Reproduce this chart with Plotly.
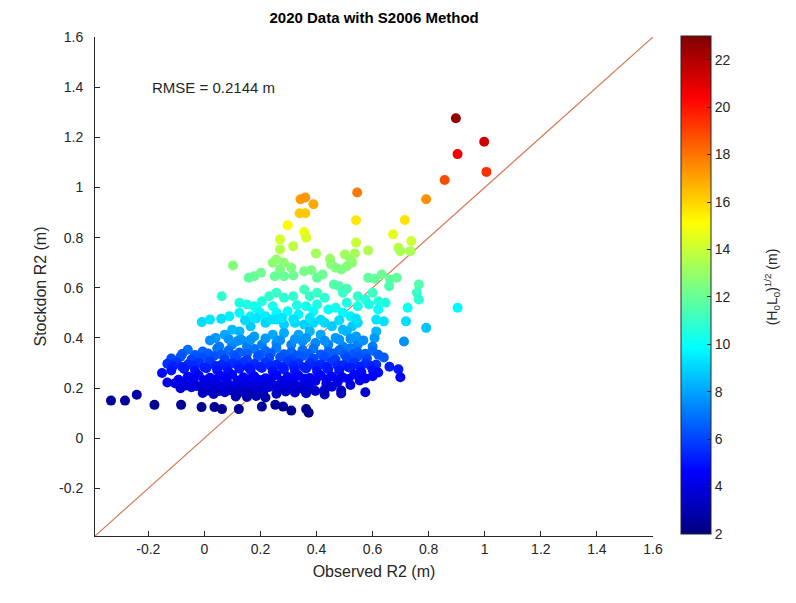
import plotly.graph_objects as go

# Observed vs. Stockdon (2006) predicted R2 runup, coloured by sqrt(H0*L0)
observed_r2 = [
    # upper tail
    0.897, 0.998, 0.903, 1.006, 0.857, 0.791, 0.545, 0.343, 0.360, 0.389, 0.340, 0.360, 0.541, 0.715, 0.297, 0.356, 0.363,
    0.673, 0.270, 0.270, 0.317, 0.541, 0.738, 0.692, 0.699, 0.735, 0.584, 0.398, 0.448, 0.452, 0.501, 0.521, 0.537,
    # green band
    0.244, 0.257, 0.284, 0.270, 0.102, 0.310, 0.356, 0.382, 0.468, 0.488, 0.508, 0.527, 0.158, 0.178, 0.202, 0.251,
    0.284, 0.317, 0.402, 0.422, 0.584, 0.607, 0.633, 0.663, 0.686,
    # teal band
    0.462, 0.481, 0.508, 0.494, 0.765, 0.758, 0.659, 0.062, 0.125, 0.152, 0.178, 0.205, 0.231, 0.257, 0.284, 0.317,
    0.356, 0.376, 0.402, 0.429, 0.547, 0.574, 0.600, 0.620, 0.646, 0.547, 0.587, 0.725, 0.765, 0.903,
    0.185, 0.244, 0.330, 0.402, 0.508, 0.620,
    # cyan band
    0.125, 0.165, 0.198, 0.218, 0.257, 0.297, 0.336, 0.363, 0.389, 0.442, 0.468, 0.089, -0.009, 0.020, 0.494, 0.521,
    0.613, 0.640, 0.719, 0.791, 0.099, 0.125, 0.165, 0.218, 0.257, 0.284, 0.323, 0.356, 0.389, 0.429, 0.455, 0.494,
    0.527, 0.547,
    0.060, 0.145, 0.185, 0.237, 0.277, 0.317, 0.376, 0.415, 0.481, 0.541,
    # light blue band
    0.040, 0.073, 0.132, 0.178, 0.244, 0.284, 0.336, 0.376, 0.415, 0.468, 0.508, 0.541, 0.613, 0.607, 0.712, 0.053,
    0.099, 0.152, 0.205, 0.257, 0.310, 0.350, 0.396, 0.442, 0.494, 0.547, 0.600,
    0.020, 0.086, 0.119, 0.165, 0.218, 0.270, 0.323, 0.363, 0.429, 0.481, 0.521, 0.567,
    # core
    -0.059, -0.006, 0.046, 0.086, 0.125, 0.178, 0.218, 0.257, 0.310, 0.350, 0.389, 0.442, 0.481, 0.521, 0.547, 0.600,
    -0.079, -0.033, 0.013, 0.060, 0.106, 0.152, 0.198, 0.237, 0.284, 0.330, 0.370, 0.415, 0.462, 0.501, 0.534, 0.574,
    0.620,
    -0.118, -0.085, -0.046, -0.006, 0.033, 0.073, 0.112, 0.152, 0.191, 0.231, 0.270, 0.310, 0.350, 0.389, 0.429, 0.468,
    0.508, 0.547, 0.580, 0.640,
    -0.132, -0.099, -0.059, -0.020, 0.020, 0.060, 0.099, 0.139, 0.178, 0.218, 0.257, 0.297, 0.336, 0.376, 0.415, 0.455,
    0.494, 0.534, 0.574, 0.613,
    -0.112, -0.079, -0.039, 0.000, 0.040, 0.079, 0.119, 0.158, 0.198, 0.237, 0.277, 0.317, 0.356, 0.396, 0.435, 0.475,
    0.514, 0.554, 0.594, 0.660,
    -0.151, -0.118, -0.072, -0.033, 0.007, 0.046, 0.086, 0.125, 0.165, 0.205, 0.244, 0.284, 0.323, 0.363, 0.402, 0.442,
    0.481, 0.521, 0.560, 0.600, 0.620, 0.692,
    -0.059, -0.020, 0.020, 0.060, 0.099, 0.139, 0.178, 0.218, 0.257, 0.297, 0.336, 0.376, 0.415, 0.455, 0.494, 0.534,
    0.574, 0.600, 0.699,
    -0.092, -0.039, 0.000, 0.040, 0.079, 0.119, 0.158, 0.198, 0.237, 0.277, 0.317, 0.356, 0.396, 0.435, 0.475, 0.514,
    0.554,
    -0.132, -0.105, -0.079, -0.039, 0.000, 0.040, 0.079, 0.119, 0.158, 0.198, 0.237, 0.277, 0.317, 0.356, 0.396, 0.435,
    0.475, 0.521,
    -0.066, -0.026, 0.013, 0.053, 0.092, 0.132, 0.172, 0.211, 0.251, 0.290, 0.330, 0.376, 0.455,
    -0.085, -0.046, -0.006, 0.033, 0.073, 0.112, 0.152, 0.191, 0.231, 0.270, 0.310, 0.350, 0.429, 0.488, 0.574,
    0.013, 0.053, 0.092, 0.132, 0.172, 0.211, 0.290, 0.396,
    -0.006, 0.033, 0.073, 0.119, 0.152, 0.191, 0.257, 0.323, 0.363, 0.429, 0.488, 0.112, 0.152, 0.185, 0.218,
    # low tail
    -0.333, -0.283, -0.241, -0.178, -0.083, -0.010, 0.036, 0.063, 0.123, 0.205, 0.253, 0.281, 0.310, 0.363, 0.372,
]

stockdon_r2 = [
    1.276, 1.182, 1.133, 1.062, 1.030, 0.953, 0.980, 0.953, 0.960, 0.933, 0.897, 0.897, 0.869, 0.870, 0.849, 0.822, 0.800,
    0.813, 0.793, 0.753, 0.766, 0.780, 0.786, 0.760, 0.746, 0.746, 0.749, 0.737, 0.716, 0.693, 0.733, 0.713, 0.737,
    0.700, 0.713, 0.700, 0.673, 0.689, 0.680, 0.666, 0.670, 0.680, 0.673, 0.686, 0.700, 0.640, 0.646, 0.660, 0.646,
    0.646, 0.649, 0.640, 0.653, 0.640, 0.636, 0.653, 0.633, 0.640,
    0.613, 0.606, 0.596, 0.580, 0.613, 0.580, 0.606, 0.566, 0.540, 0.533, 0.526, 0.546, 0.566, 0.580, 0.560, 0.566,
    0.593, 0.566, 0.580, 0.560, 0.566, 0.553, 0.580, 0.546, 0.540, 0.526, 0.533, 0.520, 0.553, 0.520,
    0.520, 0.526, 0.530, 0.533, 0.540, 0.513,
    0.500, 0.486, 0.500, 0.486, 0.500, 0.506, 0.493, 0.526, 0.506, 0.513, 0.520, 0.486, 0.463, 0.473, 0.500, 0.486,
    0.473, 0.466, 0.466, 0.440, 0.433, 0.426, 0.446, 0.460, 0.473, 0.453, 0.460, 0.453, 0.460, 0.460, 0.446, 0.433,
    0.446, 0.460,
    0.476, 0.470, 0.478, 0.473, 0.480, 0.474, 0.479, 0.472, 0.470, 0.477,
    0.400, 0.413, 0.393, 0.406, 0.413, 0.420, 0.413, 0.426, 0.413, 0.400, 0.426, 0.406, 0.426, 0.400, 0.386, 0.366,
    0.373, 0.366, 0.373, 0.380, 0.373, 0.386, 0.380, 0.373, 0.366, 0.373, 0.366,
    0.390, 0.396, 0.388, 0.393, 0.398, 0.391, 0.395, 0.400, 0.389, 0.393, 0.397, 0.390,
    0.353, 0.346, 0.358, 0.350, 0.342, 0.356, 0.348, 0.360, 0.344, 0.352, 0.357, 0.345, 0.351, 0.359, 0.343, 0.349,
    0.336, 0.332, 0.338, 0.334, 0.331, 0.337, 0.333, 0.339, 0.335, 0.330, 0.336, 0.334, 0.338, 0.332, 0.335, 0.337,
    0.333,
    0.318, 0.325, 0.314, 0.322, 0.327, 0.316, 0.321, 0.312, 0.326, 0.319, 0.323, 0.315, 0.328, 0.317, 0.324, 0.313,
    0.320, 0.326, 0.318, 0.322,
    0.297, 0.303, 0.294, 0.301, 0.306, 0.292, 0.299, 0.304, 0.296, 0.302, 0.293, 0.305, 0.298, 0.300, 0.295, 0.307,
    0.291, 0.302, 0.298, 0.294,
    0.287, 0.284, 0.289, 0.283, 0.288, 0.285, 0.290, 0.282, 0.286, 0.289, 0.284, 0.288, 0.283, 0.287, 0.285, 0.290,
    0.283, 0.286, 0.288, 0.285,
    0.260, 0.270, 0.276, 0.268, 0.279, 0.271, 0.265, 0.277, 0.272, 0.280, 0.267, 0.274, 0.269, 0.278, 0.266, 0.275,
    0.270, 0.281, 0.264, 0.273, 0.262, 0.275,
    0.245, 0.250, 0.241, 0.248, 0.253, 0.243, 0.247, 0.239, 0.252, 0.244, 0.249, 0.240, 0.251, 0.246, 0.242, 0.254,
    0.238, 0.247, 0.243,
    0.233, 0.236, 0.231, 0.234, 0.237, 0.230, 0.235, 0.232, 0.236, 0.229, 0.234, 0.237, 0.231, 0.235, 0.232, 0.236,
    0.230,
    0.222, 0.219, 0.225, 0.216, 0.223, 0.220, 0.226, 0.214, 0.221, 0.227, 0.218, 0.224, 0.215, 0.222, 0.228, 0.217,
    0.223, 0.212,
    0.210, 0.208, 0.212, 0.209, 0.211, 0.207, 0.212, 0.209, 0.210, 0.213, 0.208, 0.206, 0.205,
    0.199, 0.203, 0.196, 0.201, 0.205, 0.194, 0.200, 0.198, 0.204, 0.195, 0.202, 0.197, 0.193, 0.190, 0.183,
    0.190, 0.188, 0.191, 0.187, 0.190, 0.189, 0.186, 0.188,
    0.180, 0.176, 0.183, 0.178, 0.175, 0.181, 0.177, 0.182, 0.179, 0.174, 0.178, 0.166, 0.164, 0.168, 0.162,
    0.150, 0.150, 0.173, 0.133, 0.133, 0.124, 0.124, 0.116, 0.116, 0.126, 0.133, 0.126, 0.110, 0.116, 0.102,
]

sqrt_h0l0 = [
    22.6, 21.3, 20.6, 19.4, 18.8, 17.4, 17.9, 17.2, 17.3, 16.9, 16.2, 16.2, 15.6, 15.7, 15.2, 14.8, 14.4,
    14.6, 14.2, 13.6, 13.8, 14.0, 14.1, 13.7, 13.4, 13.4, 13.5, 13.3, 13.0, 12.7, 13.2, 12.9, 13.3,
    12.8, 12.9, 12.8, 12.4, 12.6, 12.5, 12.3, 12.4, 12.5, 12.4, 12.6, 12.8, 11.9, 12.0, 12.2, 12.0,
    12.0, 12.1, 11.9, 12.1, 11.9, 11.9, 12.1, 11.8, 11.9,
    11.6, 11.5, 11.4, 11.1, 11.6, 11.1, 11.5, 10.9, 10.5, 10.4, 10.3, 10.6, 10.9, 11.1, 10.8, 10.9,
    11.3, 10.9, 11.1, 10.8, 10.9, 10.7, 11.1, 10.6, 10.5, 10.3, 10.4, 10.2, 10.7, 9.8,
    10.2, 10.3, 10.4, 10.4, 10.5, 10.0,
    9.8, 9.6, 9.8, 9.6, 9.8, 9.9, 9.7, 10.3, 9.9, 10.0, 10.2, 9.6, 9.2, 9.4, 9.8, 9.6,
    9.4, 9.3, 9.2, 8.7, 8.5, 8.4, 8.8, 9.1, 9.3, 8.9, 9.1, 8.9, 9.1, 9.1, 8.8, 8.5,
    8.8, 9.1,
    9.3, 9.2, 9.4, 9.3, 9.4, 9.3, 9.4, 9.2, 9.2, 9.3,
    7.8, 8.1, 7.7, 7.9, 8.1, 8.2, 8.1, 8.4, 8.1, 7.8, 8.4, 7.9, 8.4, 7.8, 7.6, 7.2,
    7.3, 7.2, 7.3, 7.5, 7.3, 7.6, 7.5, 7.3, 7.2, 7.3, 7.2,
    7.6, 7.7, 7.6, 7.7, 7.8, 7.6, 7.7, 7.8, 7.6, 7.7, 7.7, 7.6,
    6.9, 6.7, 7.0, 6.8, 6.6, 7.0, 6.8, 7.1, 6.7, 6.9, 7.0, 6.7, 6.8, 7.1, 6.6, 6.8,
    6.5, 6.4, 6.6, 6.5, 6.4, 6.6, 6.5, 6.6, 6.5, 6.4, 6.6, 6.5, 6.6, 6.4, 6.5, 6.6,
    6.5,
    6.1, 6.3, 6.0, 6.2, 6.3, 6.0, 6.2, 5.9, 6.3, 6.1, 6.2, 6.0, 6.4, 6.1, 6.2, 5.9,
    6.1, 6.3, 6.1, 6.5,
    5.6, 5.7, 5.5, 5.7, 5.8, 5.4, 5.6, 5.7, 5.5, 5.7, 5.4, 5.8, 5.6, 5.6, 5.5, 5.8,
    5.4, 5.7, 5.6, 5.5,
    5.3, 5.2, 5.4, 5.2, 5.3, 5.2, 5.4, 5.1, 5.3, 5.4, 5.2, 5.3, 5.2, 5.3, 5.2, 5.4,
    5.2, 5.3, 5.3, 5.2,
    4.8, 5.0, 5.1, 4.9, 5.2, 5.0, 4.9, 5.1, 5.0, 5.2, 4.9, 5.1, 5.0, 5.2, 4.9, 5.1,
    5.0, 5.2, 4.8, 5.0, 4.8, 5.1,
    4.6, 4.7, 4.5, 4.6, 4.7, 4.5, 4.6, 4.4, 4.7, 4.5, 4.6, 4.4, 4.7, 4.6, 4.5, 4.7,
    4.4, 4.6, 4.5,
    4.4, 4.4, 4.3, 4.4, 4.4, 4.3, 4.4, 4.3, 4.4, 4.3, 4.4, 4.4, 4.3, 4.4, 4.3, 4.4,
    4.3,
    4.2, 4.1, 4.2, 4.0, 4.2, 4.1, 4.2, 3.9, 4.1, 4.2, 4.0, 4.2, 4.0, 4.1, 4.2, 4.0,
    4.1, 3.9,
    4.0, 3.9, 4.0, 4.0, 4.0, 3.9, 4.0, 3.9, 4.0, 4.0, 3.9, 3.9, 3.8,
    3.8, 3.9, 3.7, 3.8, 3.9, 3.7, 3.8, 3.8, 3.9, 3.7, 3.8, 3.7, 3.6, 3.6, 3.5,
    3.6, 3.6, 3.6, 3.5, 3.6, 3.6, 3.5, 3.5,
    3.4, 3.3, 3.5, 3.4, 3.3, 3.4, 3.3, 3.5, 3.4, 3.2, 3.3, 3.1, 3.0, 3.1, 3.0,
    2.5, 2.6, 2.9, 2.4, 2.5, 2.4, 2.4, 2.3, 2.4, 2.5, 2.5, 2.5, 2.3, 2.3, 2.2,
]

assert len(observed_r2) == len(stockdon_r2) == len(sqrt_h0l0)

axis_limits = [-0.39, 1.6]
tick_values = [-0.2, 0, 0.2, 0.4, 0.6, 0.8, 1, 1.2, 1.4, 1.6]
tick_labels = ["-0.2", "0", "0.2", "0.4", "0.6", "0.8", "1", "1.2", "1.4", "1.6"]
cbar_ticks = [2, 4, 6, 8, 10, 12, 14, 16, 18, 20, 22]
rmse_text = "RMSE = 0.2144 m"

jet = [
    [0.0, "rgb(0,0,128)"],
    [0.125, "rgb(0,0,255)"],
    [0.375, "rgb(0,255,255)"],
    [0.625, "rgb(255,255,0)"],
    [0.875, "rgb(255,0,0)"],
    [1.0, "rgb(128,0,0)"],
]

font_family = "Liberation Sans, Arial, Helvetica, sans-serif"
text_color = "#262626"

fig = go.Figure()

# 1:1 reference line
fig.add_trace(go.Scatter(
    x=axis_limits, y=axis_limits, mode="lines",
    line=dict(color="rgb(214,122,84)", width=1.2),
    hoverinfo="skip", showlegend=False,
))

fig.add_trace(go.Scatter(
    x=observed_r2, y=stockdon_r2, mode="markers", showlegend=False,
    marker=dict(
        size=10, color=sqrt_h0l0, colorscale=jet, cmin=2, cmax=23,
        line=dict(width=0),
        colorbar=dict(
            thickness=30, lenmode="pixels", len=498,
            x=1.05, xanchor="left", xref="paper", xpad=0,
            y=0.503, yanchor="middle", ypad=0,
            tickvals=cbar_ticks, ticks="inside", ticklen=4, tickcolor=text_color,
            outlinecolor=text_color, outlinewidth=1,
            tickfont=dict(family=font_family, size=14, color=text_color),
        ),
    ),
))

axis_common = dict(
    range=axis_limits, tickvals=tick_values, ticktext=tick_labels,
    ticks="inside", ticklen=5, tickcolor=text_color,
    showline=True, linecolor=text_color, linewidth=1,
    showgrid=False, zeroline=False, mirror=False,
    tickfont=dict(family=font_family, size=14, color=text_color),
)

fig.update_xaxes(
    **axis_common,
    title=dict(text="Observed R2 (m)", font=dict(family=font_family, size=16, color=text_color), standoff=10),
)
fig.update_yaxes(
    **axis_common,
    ticklabelstandoff=8,
    title=dict(text="Stockdon R2 (m)", font=dict(family=font_family, size=16, color=text_color), standoff=8),
)

fig.add_annotation(
    x=-0.195, y=1.40, xref="x", yref="y", text=rmse_text, showarrow=False,
    xanchor="left", yanchor="middle",
    font=dict(family=font_family, size=15, color=text_color),
)

fig.add_annotation(
    x=1.213, y=0.5, xref="paper", yref="paper",
    text="(H<sub>0</sub>L<sub>0</sub>)<sup>1/2</sup> (m)",
    showarrow=False, textangle=-90, xanchor="center", yanchor="middle",
    font=dict(family=font_family, size=14, color=text_color),
)

fig.update_layout(
    width=796, height=603,
    margin=dict(l=95, r=143, t=37, b=67),
    paper_bgcolor="white", plot_bgcolor="white",
    title=dict(
        text="<b>2020 Data with S2006 Method</b>",
        x=0.47, xanchor="center", y=0.970, yanchor="middle",
        font=dict(family=font_family, size=15, color="black"),
    ),
)

fig.write_html("out.html")
